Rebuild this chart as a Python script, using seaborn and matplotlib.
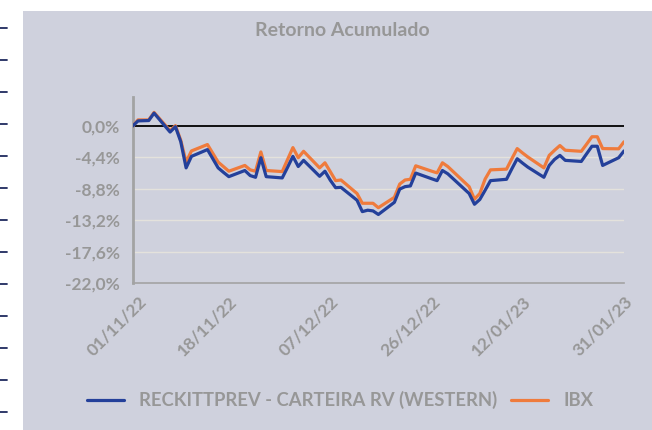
import pandas as pd
import seaborn as sns
import numpy as np
from matplotlib import pyplot as plt
from matplotlib.patches import Rectangle
from matplotlib.lines import Line2D
from matplotlib.ticker import FuncFormatter
import matplotlib.dates as mdates

sns.set_style("white")
plt.rcParams["font.family"] = ["Lato", "DejaVu Sans"]

dates = ["2022-10-31", "2022-11-01", "2022-11-03", "2022-11-04", "2022-11-07", "2022-11-08",
         "2022-11-09", "2022-11-10", "2022-11-11", "2022-11-14", "2022-11-16", "2022-11-17",
         "2022-11-18", "2022-11-21", "2022-11-22", "2022-11-23", "2022-11-24", "2022-11-25",
         "2022-11-28", "2022-11-29", "2022-11-30", "2022-12-01", "2022-12-02", "2022-12-05",
         "2022-12-06", "2022-12-07", "2022-12-08", "2022-12-09", "2022-12-12", "2022-12-13",
         "2022-12-14", "2022-12-15", "2022-12-16", "2022-12-19", "2022-12-20", "2022-12-21",
         "2022-12-22", "2022-12-23", "2022-12-26", "2022-12-27", "2022-12-28", "2022-12-29",
         "2023-01-02", "2023-01-03", "2023-01-04", "2023-01-05", "2023-01-06", "2023-01-09",
         "2023-01-10", "2023-01-11", "2023-01-12", "2023-01-13", "2023-01-16", "2023-01-17",
         "2023-01-18", "2023-01-19", "2023-01-20", "2023-01-23", "2023-01-24", "2023-01-25",
         "2023-01-26", "2023-01-27", "2023-01-30", "2023-01-31"]

carteira = [0.0, 0.71, 0.76, 1.80, -0.85, -0.10,
            -2.2, -5.87, -4.26, -3.31, -5.87, -6.5,
            -7.1, -6.24, -6.95, -7.19, -4.45, -7.1,
            -7.28, -5.8, -4.26, -5.68, -4.82, -7.05,
            -6.34, -7.6, -8.65, -8.6, -10.4, -12.0,
            -11.8, -11.9, -12.4, -10.7, -8.85, -8.5,
            -8.4, -6.6, -7.4, -7.66, -6.24, -6.7,
            -9.46, -10.97, -10.3, -9.0, -7.66, -7.47,
            -6.0, -4.59, -5.2, -5.77, -7.19, -5.53,
            -4.68, -4.12, -4.82, -4.97, -3.9, -2.84,
            -2.84, -5.53, -4.45, -3.5]

ibx = [0.0, 0.85, 0.85, 1.9, -0.66, 0.05,
       -2.0, -5.06, -3.5, -2.6, -5.06, -5.7,
       -6.34, -5.53, -6.15, -6.34, -3.64, -6.24,
       -6.39, -4.7, -3.03, -4.45, -3.55, -5.87,
       -5.16, -6.4, -7.66, -7.57, -9.46, -10.83,
       -10.83, -10.83, -11.45, -10.0, -8.14, -7.57,
       -7.47, -5.58, -6.34, -6.57, -5.16, -5.68,
       -8.5, -10.26, -9.46, -7.43, -6.15, -6.05,
       -4.59, -3.17, -3.78, -4.35, -5.87, -4.12,
       -3.4, -2.74, -3.4, -3.55, -2.55, -1.51,
       -1.51, -3.17, -3.2, -2.22]

series_names = ["RECKITTPREV - CARTEIRA RV (WESTERN)", "IBX"]
series_colors = ["#24409A", "#EF7B3C"]
tick_dates = ["2022-11-01", "2022-11-18", "2022-12-07", "2022-12-26", "2023-01-12", "2023-01-31"]
y_ticks = [0.0, -4.4, -8.8, -13.2, -17.6, -22.0]

df = pd.DataFrame({"data": pd.to_datetime(dates * 2),
                   "retorno": carteira + ibx,
                   "serie": [series_names[0]] * len(dates) + [series_names[1]] * len(dates)})

grey_txt = "#979797"
bg = "#CFD1DD"

fig = plt.figure(figsize=(6.52, 4.30), dpi=100)
fig.patch.set_facecolor("white")
fig.add_artist(Rectangle((23 / 652, 0), 1 - 23 / 652, 1 - 11 / 430,
                         transform=fig.transFigure, facecolor=bg, edgecolor="none", zorder=0))
# little marks on the white strip at the left
for yy in np.arange(28, 420, 32):
    fig.add_artist(Line2D([0, 7 / 652], [1 - yy / 430, 1 - yy / 430], transform=fig.transFigure,
                          color="#1F2A5E", lw=1.3))

ax = fig.add_axes([132.7 / 652, 1 - 283 / 430, (624 - 132.7) / 652, (283 - 96.7) / 430])
ax.set_facecolor("none")

for yv in y_ticks[1:-1]:
    ax.axhline(yv, color="#E4E2DC", lw=1.0, zorder=1)
ax.axhline(0, color="black", lw=1.3, zorder=2)

# orange first so the blue line sits on top
sns.lineplot(data=df, x="data", y="retorno", hue="serie",
             palette=dict(zip(series_names, series_colors)),
             hue_order=series_names[::-1], linewidth=2.3, ax=ax, legend=False, zorder=3)

ax.set_xlim(pd.Timestamp(dates[0]), pd.Timestamp(dates[-1]))
ax.set_ylim(-22.0, 4.1)
ax.set_yticks(y_ticks)
ax.yaxis.set_major_formatter(FuncFormatter(lambda v, p: ("%.1f%%" % v).replace(".", ",")))
ax.set_xticks(pd.to_datetime(tick_dates))
ax.xaxis.set_major_formatter(mdates.DateFormatter("%d/%m/%y"))
ax.set_xlabel("")
ax.set_ylabel("")

for s in ["top", "right"]:
    ax.spines[s].set_visible(False)
ax.spines["left"].set_color("#A3A3A3")
ax.spines["left"].set_linewidth(2.0)
ax.spines["bottom"].set_color("#A3A3A3")
ax.spines["bottom"].set_linewidth(1.2)
ax.tick_params(axis="both", direction="out", length=4, width=1, color="#A3A3A3",
               labelcolor=grey_txt, labelsize=12.5)
ax.tick_params(axis="y", pad=5)
for lab in ax.get_yticklabels():
    lab.set_fontweight("bold")
for lab in ax.get_xticklabels():
    lab.set_fontweight("bold")
    lab.set_rotation(45)
    lab.set_ha("right")
    lab.set_rotation_mode("anchor")

fig.text(342 / 652, 1 - 30 / 430, "Retorno Acumulado", ha="center", va="center",
         color=grey_txt, fontsize=14, fontweight="bold")

handles = [Line2D([], [], color=c, lw=2.3) for c in series_colors]
leg = fig.legend(handles, series_names, loc="center", bbox_to_anchor=(340 / 652, 1 - 400 / 430),
                 ncol=2, frameon=False, fontsize=13.3, handlelength=2.0, handletextpad=0.8,
                 columnspacing=0.8)
for t in leg.get_texts():
    t.set_color(grey_txt)
    t.set_fontweight("bold")

plt.savefig("out.png", dpi=100)
